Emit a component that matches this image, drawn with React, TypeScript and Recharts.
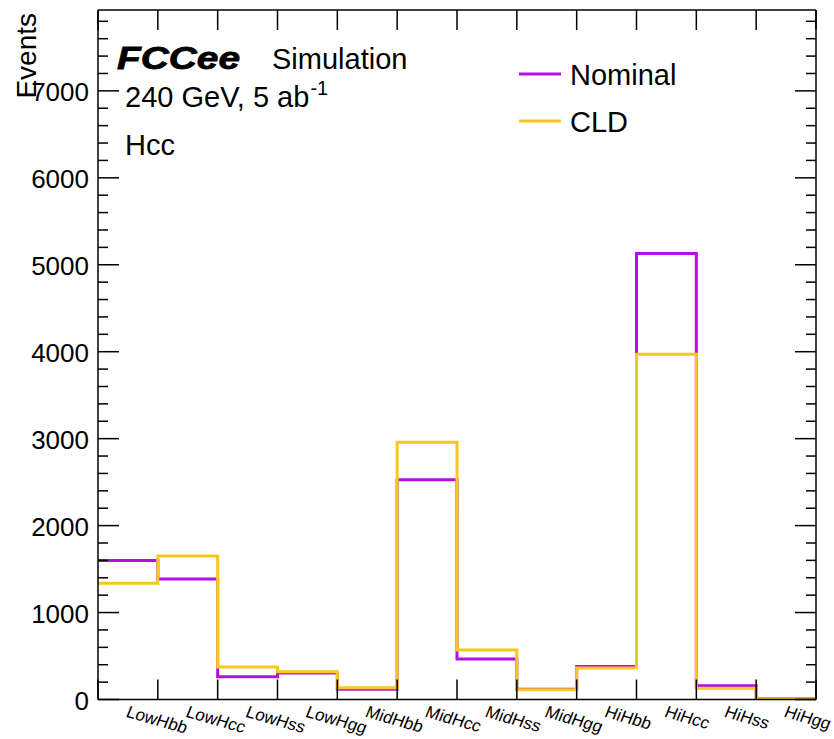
import { Line, LineChart, XAxis, YAxis } from "recharts";

const categories = [
  "LowHbb",
  "LowHcc",
  "LowHss",
  "LowHgg",
  "MidHbb",
  "MidHcc",
  "MidHss",
  "MidHgg",
  "HiHbb",
  "HiHcc",
  "HiHss",
  "HiHgg",
];
const nominal = [1600, 1385, 262, 305, 117, 2526, 466, 118, 380, 5130, 159, 12];
const cld = [1336, 1650, 374, 318, 134, 2960, 570, 113, 362, 3970, 129, 10];
const yTickLabels = [0, 1000, 2000, 3000, 4000, 5000, 6000, 7000];

const FONT = '"Liberation Sans", Arial, Helvetica, sans-serif';
const NOMINAL_COLOR = "#b40ee8";
const CLD_COLOR = "#f6c81c";
const Y_MAX = 7930;

// histogram rows at the bin edges, last edge repeats the last bin
const rows = categories.map((c, i) => ({ x: i, name: c, nominal: nominal[i], cld: cld[i] }));
rows.push({ x: categories.length, name: "", nominal: nominal[nominal.length - 1], cld: cld[cld.length - 1] });

const nBins = categories.length;
const edgeTicks = Array.from({ length: nBins + 1 }, (_, i) => i);
const bottomTicks = [...edgeTicks, ...categories.map((_, i) => i + 0.5)].sort((a, b) => a - b);
const yTicks = Array.from({ length: 40 }, (_, i) => i * 200);

function BottomTick(props: any) {
  const { x, y, payload } = props;
  const v = payload.value;
  if (Number.isInteger(v)) {
    return <line x1={x} y1={y} x2={x} y2={y - 20} stroke="#000" strokeWidth={1.5} />;
  }
  const label = categories[Math.floor(v)];
  return (
    <g transform={`translate(${x - 3}, ${y + 17}) rotate(16) skewX(-6)`}>
      <text x={0} y={0} fontFamily={FONT} fontSize={17} fill="#000">
        {label}
      </text>
    </g>
  );
}

function TopTick(props: any) {
  const { x, y } = props;
  return <line x1={x} y1={y} x2={x} y2={y + 20} stroke="#000" strokeWidth={1.5} />;
}

function LeftTick(props: any) {
  const { x, y, payload } = props;
  const major = payload.value % 1000 === 0;
  return (
    <g>
      <line x1={x} y1={y} x2={x + (major ? 21 : 10)} y2={y} stroke="#000" strokeWidth={1.5} />
      {major && yTickLabels.includes(payload.value) && (
        <text x={x - 9} y={y + 10} textAnchor="end" fontFamily={FONT} fontSize={26} fill="#000">
          {payload.value}
        </text>
      )}
    </g>
  );
}

function RightTick(props: any) {
  const { x, y, payload } = props;
  const major = payload.value % 1000 === 0;
  return <line x1={x} y1={y} x2={x - (major ? 21 : 10)} y2={y} stroke="#000" strokeWidth={1.5} />;
}

export default function App() {
  return (
    <div style={{ position: "absolute", left: 0, top: 0, width: 834, height: 739, background: "#fff" }}>
      <LineChart width={834} height={739} data={rows} margin={{ top: 9, right: 0, bottom: 0, left: 0 }}>
        <XAxis
          xAxisId="bottom"
          dataKey="x"
          type="number"
          domain={[0, nBins]}
          ticks={bottomTicks}
          interval={0}
          allowDataOverflow
          height={39.5}
          tickSize={0}
          tickMargin={0}
          tickLine={false}
          tick={<BottomTick />}
          axisLine={{ stroke: "#000", strokeWidth: 1.5 }}
        />
        <XAxis
          xAxisId="top"
          orientation="top"
          dataKey="x"
          type="number"
          domain={[0, nBins]}
          ticks={edgeTicks}
          interval={0}
          allowDataOverflow
          height={1}
          tickSize={0}
          tickMargin={0}
          tickLine={false}
          tick={<TopTick />}
          axisLine={{ stroke: "#000", strokeWidth: 1.5 }}
        />
        <YAxis
          yAxisId="left"
          type="number"
          domain={[0, Y_MAX]}
          ticks={yTicks}
          interval={0}
          allowDataOverflow
          width={98}
          tickSize={0}
          tickMargin={0}
          tickLine={false}
          tick={<LeftTick />}
          axisLine={{ stroke: "#000", strokeWidth: 1.5 }}
        />
        <YAxis
          yAxisId="right"
          orientation="right"
          type="number"
          domain={[0, Y_MAX]}
          ticks={yTicks}
          interval={0}
          allowDataOverflow
          width={18}
          tickSize={0}
          tickMargin={0}
          tickLine={false}
          tick={<RightTick />}
          axisLine={{ stroke: "#000", strokeWidth: 1.5 }}
        />
        <Line
          xAxisId="bottom"
          yAxisId="left"
          type="stepAfter"
          dataKey="nominal"
          stroke={NOMINAL_COLOR}
          strokeWidth={3}
          dot={false}
          isAnimationActive={false}
        />
        <Line
          xAxisId="bottom"
          yAxisId="left"
          type="stepAfter"
          dataKey="cld"
          stroke={CLD_COLOR}
          strokeWidth={3}
          dot={false}
          isAnimationActive={false}
        />
      </LineChart>
      <svg
        width={834}
        height={739}
        style={{ position: "absolute", left: 0, top: 0, pointerEvents: "none" }}
        fontFamily={FONT}
      >
        <text
          x={36}
          y={13}
          transform="rotate(-90, 36, 13)"
          textAnchor="end"
          fontSize={28}
          fill="#000"
        >
          Events
        </text>
        <text
          x={117}
          y={69}
          fontSize={32}
          fontWeight="bold"
          fontStyle="italic"
          textLength={123}
          lengthAdjust="spacingAndGlyphs"
          fill="#000"
          stroke="#000"
          strokeWidth={0.8}
        >
          FCCee
        </text>
        <text x={272} y={68.5} fontSize={29} fill="#000">
          Simulation
        </text>
        <text x={125} y={107} fontSize={29} fill="#000">
          240 GeV, 5 ab
          <tspan dx={1} dy={-12} fontSize={20}>
            -1
          </tspan>
        </text>
        <text x={125} y={155} fontSize={29} fill="#000">
          Hcc
        </text>
        <line x1={519} y1={74} x2={561} y2={74} stroke={NOMINAL_COLOR} strokeWidth={3} />
        <text x={570} y={85} fontSize={29} fill="#000">
          Nominal
        </text>
        <line x1={519} y1={121} x2={561} y2={121} stroke={CLD_COLOR} strokeWidth={3} />
        <text x={570} y={132} fontSize={29} fill="#000">
          CLD
        </text>
      </svg>
    </div>
  );
}
